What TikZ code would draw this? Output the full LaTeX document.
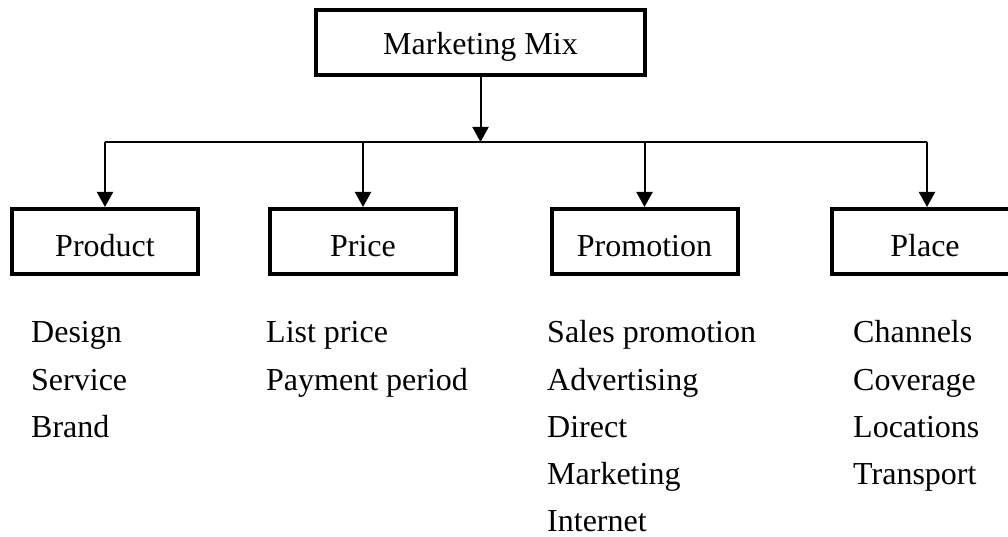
\documentclass[tikz,border=0pt]{standalone}
\usepackage{fontspec}
\setmainfont{Liberation Serif}
\usetikzlibrary{arrows.meta}
\begin{document}
\begin{tikzpicture}[x=1pt,y=-1pt,
  font=\fontsize{32}{38}\selectfont,
  topbox/.style={draw, line width=4pt, inner sep=0pt,
    minimum width=329pt, minimum height=65pt, text height=30pt, text depth=5pt},
  catbox/.style={draw, line width=4pt, inner sep=0pt,
    minimum width=186pt, minimum height=65pt, text height=35pt, text depth=5pt},
  link/.style={line width=2pt},
  arr/.style={link, -{Triangle[length=15pt,width=16pt]}},
  item/.style={anchor=base west, inner sep=0pt}]
\useasboundingbox (0,0) rectangle (1008,537);
\clip (0,0) rectangle (1008,537);

% root and the four categories
\node[topbox] (mix) at (480.5,42.5) {Marketing Mix};
\node[catbox] (product)   at (105,241.5)   {Product};
\node[catbox] (price)     at (363,241.5)   {Price};
\node[catbox] (promotion) at (644.5,241.5) {Promotion};
\node[catbox] (place)     at (925,241.5)   {Place};

% distribution bus
\coordinate (bus) at (480.5,142);
\coordinate (busL) at (105,142);
\coordinate (busR) at (927,142);
\draw[arr] (mix.south) -- (bus);
\draw[link] (busL) -- (busR);
\draw[arr] (busL) -- (product.north);
\draw[arr] (busL -| price.north) -- (price.north);
\draw[arr] (busL -| promotion.north) -- (promotion.north);
\draw[arr] (busR) -- (busR |- place.north);

% item lists
\node[item] (d1) at (31,342.7)   {Design};
\node[item] (d2) at (31,390.0)   {Service};
\node[item] (d3) at (31,437.3)   {Brand};

\node[item] (p1) at (266,342.7)  {List price};
\node[item] (p2) at (266,390.0)  {Payment period};

\node[item] (m1) at (547,342.7)  {Sales promotion};
\node[item] (m2) at (547,390.0)  {Advertising};
\node[item] (m3) at (547,437.3)  {Direct};
\node[item] (m4) at (547,484.6)  {Marketing};
\node[item] (m5) at (547,531.9)  {Internet};

\node[item] (c1) at (853,342.7)  {Channels};
\node[item] (c2) at (853,390.0)  {Coverage};
\node[item] (c3) at (853,437.3)  {Locations};
\node[item] (c4) at (853,484.6)  {Transport};
\end{tikzpicture}
\end{document}
